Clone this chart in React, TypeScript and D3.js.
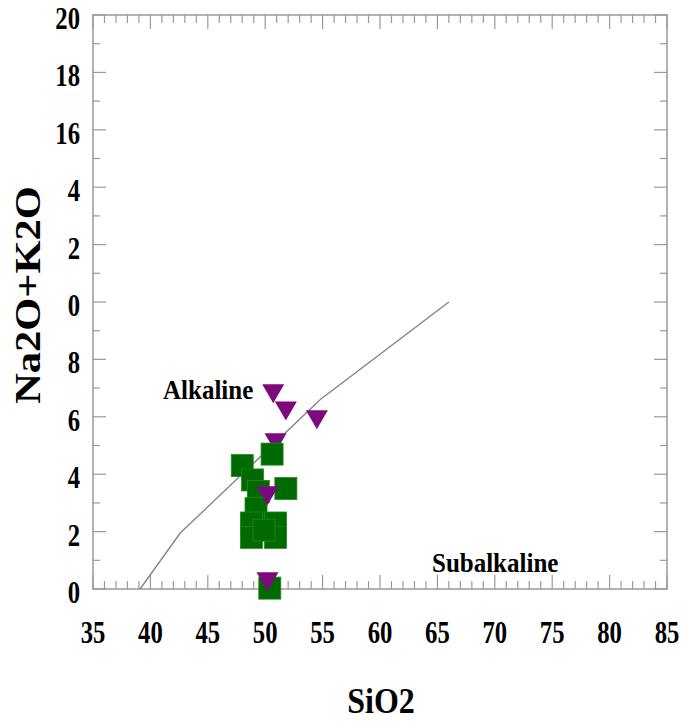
import React from 'react';
import * as d3 from 'd3';

// boundary line (Irvine & Baragar style)
const boundarySiO2 = [39.1, 42.6, 54.8, 66];
const boundaryAlk = [0, 1.95, 6.6, 10];

// samples in drawing order: 'tri' = purple triangles, 'sq' = green squares
const sampleKind = ['tri', 'sq', 'sq', 'sq', 'sq', 'sq', 'sq', 'sq', 'sq', 'sq', 'sq', 'sq', 'sq', 'tri', 'tri', 'tri', 'tri', 'tri'];
const sampleSiO2 = [50.9, 50.6, 48.0, 48.9, 49.4, 51.8, 49.2, 48.8, 50.9, 48.8, 50.9, 49.9, 50.4, 50.7, 51.8, 54.5, 50.2, 50.2];
const sampleAlk = [5.1, 4.7, 4.3, 3.8, 3.4, 3.5, 2.8, 2.3, 2.3, 1.8, 1.8, 2.05, 0.03, 6.8, 6.2, 5.9, 3.25, 0.25];

const xTicks = [35, 40, 45, 50, 55, 60, 65, 70, 75, 80, 85];
const yTicks = [0, 2, 4, 6, 8, 10, 12, 14, 16, 18, 20];
// the left edge of the original picture is cut, so 10/12/14 lose their leading "1"
const yTickLabels = ['0', '2', '4', '6', '8', '0', '2', '4', '16', '18', '20'];

const width = 684;
const height = 721;
const plot = { left: 93, right: 667, top: 15, bottom: 589 };

const GREEN = '#006a00';
const PURPLE = '#7d0a7d';
const AXIS = '#999999';
const FONT = '"Liberation Serif", "Times New Roman", serif';

const App: React.FC = () => {
  const x = d3.scaleLinear().domain([35, 85]).range([plot.left, plot.right]);
  const y = d3.scaleLinear().domain([0, 20]).range([plot.bottom, plot.top]);

  const line = d3.line<number>()
    .x((_, i) => x(boundarySiO2[i]))
    .y((_, i) => y(boundaryAlk[i]));

  const xMinor = d3.range(35, 86, 1);
  const yMinor = d3.range(0, 21, 1);

  const sq = 22;
  const triW = 22;
  const triH = 19;

  return (
    <svg width={width} height={height} style={{ position: 'absolute', left: 0, top: 0, background: '#fff' }}>
      {/* frame */}
      <rect x={plot.left} y={plot.top} width={plot.right - plot.left} height={plot.bottom - plot.top}
        fill="none" stroke={AXIS} strokeWidth={1.5} />

      {/* x ticks, bottom and top, pointing inward */}
      {xMinor.map(v => {
        const len = v % 5 === 0 ? 14 : 8;
        return (
          <g key={'xt' + v} stroke={AXIS} strokeWidth={1.2}>
            <line x1={x(v)} x2={x(v)} y1={plot.bottom} y2={plot.bottom - len} />
            <line x1={x(v)} x2={x(v)} y1={plot.top} y2={plot.top + len} />
          </g>
        );
      })}

      {/* y ticks, left and right */}
      {yMinor.map(v => {
        const len = v % 2 === 0 ? 13 : 7;
        return (
          <g key={'yt' + v} stroke={AXIS} strokeWidth={1.2}>
            <line x1={plot.left} x2={plot.left + len} y1={y(v)} y2={y(v)} />
            <line x1={plot.right} x2={plot.right - len} y1={y(v)} y2={y(v)} />
          </g>
        );
      })}

      {/* tick labels */}
      {xTicks.map(v => (
        <text key={'xl' + v} transform={`translate(${x(v)},643) scale(0.95,1.2)`} textAnchor="middle"
          fontFamily={FONT} fontWeight="bold" fontSize={26} fill="#000">{v}</text>
      ))}
      {yTicks.map((v, i) => (
        <text key={'yl' + v} transform={`translate(80,${y(v) + 14}) scale(0.95,1.2)`} textAnchor="end"
          fontFamily={FONT} fontWeight="bold" fontSize={26} fill="#000">{yTickLabels[i]}</text>
      ))}

      {/* boundary */}
      <path d={line(boundarySiO2) || undefined} fill="none" stroke="#808080" strokeWidth={1.3} />

      {/* samples */}
      {sampleKind.map((k, i) => {
        const cx = x(sampleSiO2[i]);
        const cy = y(sampleAlk[i]);
        if (k === 'sq') {
          return <rect key={'s' + i} x={cx - sq / 2} y={cy - sq / 2} width={sq} height={sq}
            fill={GREEN} stroke="#1f8a1f" strokeWidth={0.8} />;
        }
        const pts = [[cx - triW / 2, cy - triH / 2], [cx + triW / 2, cy - triH / 2], [cx, cy + triH / 2]];
        return <polygon key={'t' + i} points={pts.map(p => p.join(',')).join(' ')} fill={PURPLE} />;
      })}

      {/* field labels */}
      <text transform="translate(163,399) scale(1,1.1)" fontFamily={FONT} fontWeight="bold" fontSize={25} fill="#000">Alkaline</text>
      <text transform="translate(432,572) scale(1,1.1)" fontFamily={FONT} fontWeight="bold" fontSize={25} fill="#000">Subalkaline</text>

      {/* axis titles */}
      <text transform="translate(381,713) scale(1,1.1)" textAnchor="middle" fontFamily={FONT} fontWeight="bold" fontSize={32} fill="#000">SiO2</text>
      <text transform="translate(40,295) rotate(-90) scale(1.18,1)" textAnchor="middle" fontFamily={FONT} fontWeight="bold" fontSize={36} fill="#000">Na2O+K2O</text>
    </svg>
  );
};

export default App;
